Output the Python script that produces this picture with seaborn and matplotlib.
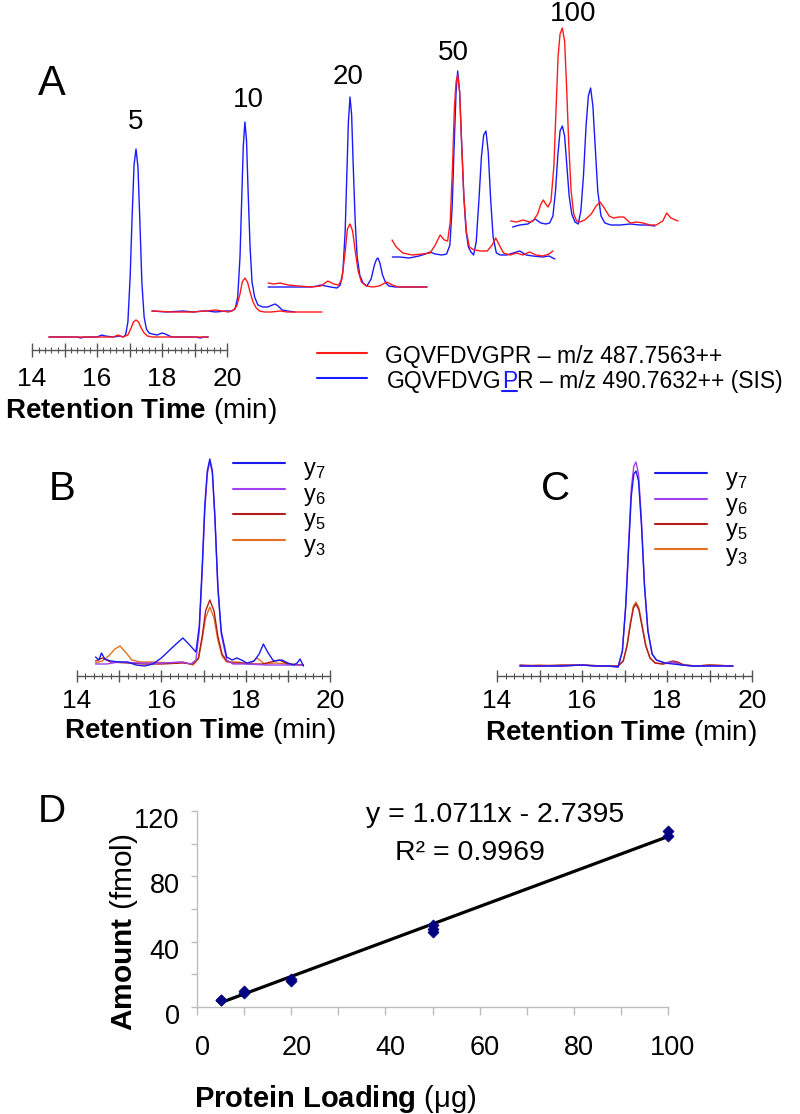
import numpy as np
import matplotlib
matplotlib.use("Agg")
import matplotlib.pyplot as plt
from matplotlib.lines import Line2D
from matplotlib.transforms import ScaledTranslation
import seaborn as sns

sns.set_style("white")
plt.rcParams["font.family"] = ["Liberation Sans", "DejaVu Sans"]
plt.rcParams["mathtext.fontset"] = "custom"
plt.rcParams["mathtext.rm"] = "Liberation Sans"
plt.rcParams["mathtext.bf"] = "Liberation Sans:bold"
plt.rcParams["mathtext.it"] = "Liberation Sans:italic"
plt.rcParams["mathtext.default"] = "regular"
plt.rcParams["text.color"] = "black"
plt.rcParams["xtick.color"] = "black"
plt.rcParams["ytick.color"] = "black"
plt.rcParams["axes.labelcolor"] = "black"

# ---------------- DATA ----------------
# Panel A: XIC traces (time in min, intensity in arbitrary units) for each protein loading
loading_labels = ["5", "10", "20", "50", "100"]

a5_t_sis = [14.52, 15.0, 15.4, 15.5, 15.6, 16.0, 16.15, 16.25, 16.5, 16.7, 16.8, 16.88, 16.95, 17.02, 17.08, 17.14,
            17.2, 17.26, 17.32, 17.38, 17.45, 17.52, 17.6, 17.7, 17.85, 18.0, 18.1, 18.3, 18.6, 19.0, 19.2, 19.25, 19.42]
a5_sis = [0, 0, 0, -1, 0, 0, 2, 1, 0, 1, 0, 2, 15, 60, 120, 172,
          188, 170, 115, 55, 20, 8, 4, 3, 2, 4, 3, 0, 0, 0, -1, 0, 0]
a5_t_nat = [14.52, 15.5, 16.0, 16.5, 16.65, 16.8, 16.95, 17.05, 17.12, 17.2, 17.28, 17.36, 17.45, 17.55, 17.7, 18.0,
            19.0, 19.42]
a5_nat = [0, 0, 0, 0, 2, 0, 2, 9, 15, 17, 15, 9, 4, 1, 0, 0, 0, 0]

a10_t_sis = [14.34, 14.8, 15.3, 15.6, 15.9, 16.05, 16.3, 16.6, 16.8, 16.9, 16.98, 17.05, 17.1, 17.15, 17.2, 17.25,
             17.3, 17.36, 17.42, 17.5, 17.6, 17.75, 17.9, 18.05, 18.13, 18.22, 18.35, 18.5, 18.74]
a10_sis = [1, 0, 1, 0, 1, 1, 0, 1, 1, 3, 15, 55, 110, 165, 190, 172,
           120, 65, 30, 15, 7, 5, 5, 7, 8, 6, 2, 1, 0]
a10_t_nat = [14.34, 15.0, 15.6, 16.0, 16.3, 16.5, 16.7, 16.85, 16.95, 17.05, 17.12, 17.2, 17.28, 17.36, 17.45, 17.55,
             17.65, 17.8, 18.0, 18.3, 18.5, 19.0, 19.57]
a10_nat = [1, 0, 0, 1, 2, 1, 0, 2, 6, 18, 30, 34, 30, 20, 10, 4, 1, 0, 0, 1, 0, 0, 0]

a20_t_sis = [14.68, 15.0, 15.5, 16.0, 16.2, 16.3, 16.45, 16.6, 16.8, 16.9, 16.98, 17.05, 17.1, 17.15, 17.2, 17.25,
             17.3, 17.36, 17.42, 17.5, 17.6, 17.72, 17.85, 17.95, 18.02, 18.06, 18.12, 18.2, 18.3, 18.4, 18.6, 19.0,
             19.57]
a20_sis = [0, 0, 0, 0, 1, 2, 1, 0, -1, 2, 15, 55, 110, 165, 190, 172,
           120, 65, 30, 12, 4, 1, 8, 22, 28, 29, 24, 12, 4, 1, 0, 0, 0]
a20_t_nat = [14.68, 14.85, 15.05, 15.3, 15.6, 16.0, 16.3, 16.52, 16.7, 16.85, 16.95, 17.05, 17.12, 17.2, 17.28,
             17.36, 17.45, 17.55, 17.7, 17.9, 18.1, 18.33, 18.5, 18.7, 19.0, 19.57]
a20_nat = [4, 3, 4, 2, 1, 0, 1, 6, 3, 2, 8, 35, 58, 63, 56, 36, 16, 5, 1, 0, 1, 5, 2, 0, 0, 0]

a50_t_sis = [15.18, 15.4, 15.7, 16.0, 16.2, 16.34, 16.5, 16.7, 16.85, 16.95, 17.02, 17.08, 17.14, 17.19, 17.25, 17.31,
             17.38, 17.45, 17.52, 17.6, 17.68, 17.76, 17.84, 17.92, 17.99, 18.06, 18.13, 18.2, 18.28, 18.38, 18.5,
             18.7, 18.9, 19.1, 19.3, 19.5, 19.8, 20.0, 20.18]
a50_sis = [0, 0, -1, 1, 3, 5, 3, 2, 3, 12, 50, 110, 165, 186, 165, 115,
           60, 25, 10, 5, 2, 15, 55, 100, 122, 126, 105, 60, 20, 4, 2,
           2, 4, 6, 2, 1, 0, 1, -2]
a50_t_nat = [15.17, 15.3, 15.5, 15.8, 16.1, 16.34, 16.5, 16.65, 16.78, 16.88, 16.96, 17.03, 17.09, 17.14, 17.19,
             17.25, 17.31, 17.38, 17.46, 17.55, 17.7, 17.9, 18.1, 18.25, 18.36, 18.47, 18.6, 18.8, 19.0, 19.2, 19.4,
             19.6, 19.8, 20.0, 20.12]
a50_nat = [17, 10, 4, 2, 3, 4, 12, 22, 17, 16, 35, 90, 150, 175, 182,
           165, 115, 60, 25, 10, 7, 6, 6, 12, 19, 12, 4, 2, 4, 2, 5,
           2, 1, 3, 6]

a100_t_sis = [15.68, 15.9, 16.15, 16.37, 16.55, 16.7, 16.82, 16.92, 17.0, 17.07, 17.14, 17.21, 17.28, 17.35, 17.42,
              17.5, 17.6, 17.7, 17.78, 17.86, 17.94, 18.01, 18.08, 18.15, 18.22, 18.3, 18.4, 18.52, 18.7, 19.0, 19.3,
              19.6, 19.8, 20.06]
a100_sis = [-1, 1, 2, 7, 3, 2, 3, 10, 35, 70, 95, 100, 90, 60, 30,
            12, 4, 2, 15, 50, 100, 130, 138, 120, 80, 35, 10, 3, 1, 1, 2,
            1, 1, 0]
a100_t_nat = [15.62, 15.8, 16.0, 16.2, 16.31, 16.45, 16.55, 16.625, 16.7, 16.77, 16.86, 16.95, 17.02, 17.08, 17.14,
              17.21, 17.28, 17.34, 17.41, 17.48, 17.56, 17.65, 17.75, 17.9, 18.1, 18.25, 18.37, 18.5, 18.65, 18.78,
              18.95, 19.1, 19.3, 19.5, 19.7, 19.9, 20.1, 20.3, 20.42, 20.55, 20.77]
a100_nat = [5, 4, 6, 4, 5, 12, 22, 26, 22, 19, 25, 60, 120, 170, 192,
            198, 185, 140, 80, 35, 12, 5, 4, 6, 12, 20, 24, 18, 10, 8,
            9, 9, 3, 4, 3, 1, 1, 5, 13, 8, 5]

a_legend_nat = "GQVFDVGPR \u2013 m/z 487.7563++"
a_legend_sis = ["GQVFDVG", "P", "R \u2013 m/z 490.7632++ (SIS)"]

# Panel B: transitions (5 ug)
fragment_labels = ["y$_{7}$", "y$_{6}$", "y$_{5}$", "y$_{3}$"]
b_t_y7 = [14.44, 14.52, 14.58, 14.66, 14.8, 15.0, 15.2, 15.4, 15.6, 15.8, 16.0, 16.2, 16.35, 16.51, 16.65, 16.82,
          16.9, 16.97, 17.03, 17.09, 17.15, 17.21, 17.27, 17.34, 17.42, 17.55, 17.68, 17.79, 17.9, 18.03, 18.2,
          18.32, 18.42, 18.52, 18.66, 18.86, 19.0, 19.14, 19.22, 19.29, 19.37]
b_y7 = [9, 6, 13, 7, 5, 4, 4, 1, 0, 2, 8, 16, 22, 28, 22, 14,
        40, 100, 160, 195, 207, 195, 150, 80, 35, 9, 6, 8, 6, 3, 5,
        12, 22, 14, 5, 6, 3, 1, 3, 7, 0]
b_t_y6 = [14.44, 14.7, 15.0, 15.5, 16.0, 16.5, 16.7, 16.82, 16.9, 16.97, 17.03, 17.09, 17.15, 17.21, 17.27, 17.34,
          17.42, 17.55, 17.7, 18.0, 18.5, 19.0, 19.37]
b_y6 = [2, 2, 4, 3, 3, 4, 2, 6, 35, 95, 155, 192, 205, 193, 148, 78, 32, 6, 2, 2, 1, 1, 1]
b_t_y5 = [14.44, 14.6, 14.8, 15.2, 15.6, 16.0, 16.5, 16.75, 16.88, 16.97, 17.05, 17.15, 17.25, 17.34, 17.44, 17.55,
          17.7, 17.9, 18.1, 18.4, 18.6, 18.8, 19.0, 19.37]
b_y5 = [5, 8, 4, 3, 2, 2, 3, 2, 8, 30, 55, 66, 55, 30, 12, 5, 3, 3, 2, 2, 4, 6, 2, 1]
b_t_y3 = [14.44, 14.6, 14.75, 14.9, 15.02, 15.15, 15.3, 15.5, 15.8, 16.2, 16.5, 16.75, 16.88, 16.97, 17.05, 17.15,
          17.25, 17.34, 17.44, 17.55, 17.8, 18.1, 18.27, 18.45, 18.7, 19.0, 19.37]
b_y3 = [3, 5, 10, 17, 20, 14, 6, 4, 4, 3, 4, 1, 7, 27, 48, 59, 48, 26, 10, 4, 4, 2, 8, 2, 3, 2, 1]

# Panel C: transitions (50 ug)
c_t = [14.54, 15.0, 15.5, 16.0, 16.3, 16.6, 16.85, 16.95, 17.03, 17.1, 17.16, 17.22, 17.27, 17.33, 17.4, 17.47,
       17.55, 17.65, 17.75, 17.95, 18.14, 18.35, 18.6, 19.0, 19.3, 19.55]
c_y7 = [0, 0, 0, 1, 0, 0, -1, 15, 60, 120, 170, 192, 195, 185, 140, 80, 35, 12, 6, 3, 2, 1, 0, 0, 0, 0]
c_y6 = [0, 0, 0, 1, 0, 0, -1, 15, 62, 125, 178, 200, 204, 192, 145, 82, 36, 12, 6, 3, 4, 1, 0, 0, 0, 0]
c_t_small = [14.54, 15.0, 15.5, 16.0, 16.5, 16.85, 16.97, 17.06, 17.14, 17.21, 17.27, 17.34, 17.42, 17.5, 17.6,
             17.72, 17.9, 18.05, 18.14, 18.25, 18.4, 18.7, 19.0, 19.55]
c_y5 = [1, 0, 1, 1, 0, 0, 5, 20, 42, 58, 62, 56, 38, 20, 8, 3, 2, 4, 5, 4, 1, 0, 1, 0]
c_y3 = [0, 1, 0, 1, 0, 0, 5, 21, 44, 60, 64, 58, 40, 21, 8, 3, 2, 3, 3, 3, 1, 0, 1, 0]

# Panel D: calibration
d_loading = [5, 5, 10, 10, 20, 20, 50, 50, 50, 100, 100]
d_amount = [4.5, 4.0, 8.5, 9.5, 16.0, 17.0, 46.0, 47.5, 50.0, 105.0, 107.5]
fit_slope = 1.0711
fit_intercept = -2.7395
fit_r2 = 0.9969

# ---------------- STYLE / LAYOUT ----------------
W, H = 800, 1114
RED, BLUE = "#ff1a1a", "#1a1aff"
FRAG_COLORS = ["#1a1aee", "#a040f0", "#b01c1c", "#e2701e"]
AXIS_GRAY = "#555555"

fig = plt.figure(figsize=(W / 100, H / 100), dpi=100)


def px_axes(x0, y0, x1, y1):
    return fig.add_axes([x0 / W, 1 - y1 / H, (x1 - x0) / W, (y1 - y0) / H])


def fx(x):
    return x / W


def fy(y):
    return 1 - y / H


def style_time_axis(ax, spine_y, major_len, minor_len, labelsize, pad):
    for s in ["top", "right", "left"]:
        ax.spines[s].set_visible(False)
    ax.spines["bottom"].set_position(("data", spine_y))
    ax.spines["bottom"].set_bounds(14, 20)
    ax.spines["bottom"].set_color(AXIS_GRAY)
    ax.spines["bottom"].set_linewidth(1.0)
    ax.set_xticks(np.arange(14, 20.01, 1))
    ax.set_xticklabels(["14", "", "16", "", "18", "", "20"])
    ax.set_xticks(np.arange(14, 20.01, 0.2), minor=True)
    ax.tick_params(axis="x", which="major", bottom=True, direction="inout", length=major_len, width=1,
                   color=AXIS_GRAY, labelcolor="black", labelsize=labelsize, pad=pad)
    ax.tick_params(axis="x", which="minor", bottom=True, direction="inout", length=minor_len, width=0.8,
                   color=AXIS_GRAY)
    ax.set_yticks([])
    ax.set_xlabel("")
    ax.set_ylabel("")
    ax.patch.set_alpha(0)


# ---------------- PANEL A ----------------
axA = px_axes(32, 0, 800, 420)
axA.set_xlim(14, 14 + 768 / 32.5)
axA.set_ylim(0, 420)
A_XOFF = [0, 3.35, 6.585, 9.908, 13.108]
A_BASE = [337, 312, 287, 257, 226]
A_TRACES = [(a5_t_sis, a5_sis, a5_t_nat, a5_nat),
            (a10_t_sis, a10_sis, a10_t_nat, a10_nat),
            (a20_t_sis, a20_sis, a20_t_nat, a20_nat),
            (a50_t_sis, a50_sis, a50_t_nat, a50_nat),
            (a100_t_sis, a100_sis, a100_t_nat, a100_nat)]
for i, (ts, ys, tn, yn) in enumerate(A_TRACES):
    base = 420 - A_BASE[i]
    sns.lineplot(x=np.array(ts) + A_XOFF[i], y=np.array(ys) + base, ax=axA, color=BLUE, lw=1.0,
                 estimator=None, sort=False)
    sns.lineplot(x=np.array(tn) + A_XOFF[i], y=np.array(yn) + base, ax=axA, color=RED, lw=1.0,
                 estimator=None, sort=False)
style_time_axis(axA, 70, 10, 5, 19, 7)

peak_lab_pos = [(136, 129), (248, 107), (348, 84), (453, 60), (573, 21)]
for lab, (px, py) in zip(loading_labels, peak_lab_pos):
    fig.text(fx(px), fy(py), lab, ha="center", va="baseline", fontsize=20)

fig.text(fx(52), fy(95), "A", ha="center", va="baseline", fontsize=30)
fig.text(fx(5), fy(418), r"$\mathbf{Retention\ Time}$ (min)", ha="left", va="baseline", fontsize=20)

# legend A
fig.add_artist(Line2D([fx(317), fx(367)], [fy(353), fy(353)], color=RED, lw=1.5))
fig.add_artist(Line2D([fx(317), fx(367)], [fy(378), fy(378)], color=BLUE, lw=1.5))
fig.text(fx(385), fy(363), a_legend_nat, ha="left", va="baseline", fontsize=16.5)
t1 = fig.text(fx(387), fy(388), a_legend_sis[0], ha="left", va="baseline", fontsize=16.5)
t2 = axA.annotate(a_legend_sis[1], xy=(1, 0), xycoords=t1, ha="left", va="bottom", fontsize=16.5, color=BLUE,
                  annotation_clip=False)
t3 = axA.annotate(a_legend_sis[2], xy=(1, 0), xycoords=t2, ha="left", va="bottom", fontsize=16.5,
                  annotation_clip=False)

# ---------------- PANELS B, C ----------------
def frag_panel(x0, x1, series, letter, letter_x, leg_x0, leg_x1, leg_tx, leg_ys, label_cx, label_base):
    ax = px_axes(x0, 450, x1, 690)
    ax.set_xlim(14, 20)
    ax.set_ylim(-(690 - 666), 666 - 450)
    for (t, y), c in list(zip(series, FRAG_COLORS))[::-1]:
        sns.lineplot(x=t, y=y, ax=ax, color=c, lw=1.0, estimator=None, sort=False)
    style_time_axis(ax, -10, 8, 4, 19, 5)
    for lab, c, ly in zip(fragment_labels, FRAG_COLORS, leg_ys):
        fig.add_artist(Line2D([fx(leg_x0), fx(leg_x1)], [fy(ly), fy(ly)], color=c, lw=1.5))
        fig.text(fx(leg_tx), fy(ly + 12), lab, ha="left", va="baseline", fontsize=17)
    fig.text(fx(letter_x), fy(500), letter, ha="center", va="baseline", fontsize=29)
    fig.text(fx(label_cx), fy(label_base), r"$\mathbf{Retention\ Time}$ (min)", ha="center", va="baseline",
             fontsize=20)
    return ax


axB = frag_panel(77, 330, [(b_t_y7, b_y7), (b_t_y6, b_y6), (b_t_y5, b_y5), (b_t_y3, b_y3)], "B", 62,
                 233, 285, 303, [463, 489, 514, 540], 200, 738)
axC = frag_panel(497, 752, [(c_t, c_y7), (c_t, c_y6), (c_t_small, c_y5), (c_t_small, c_y3)], "C", 556,
                 655, 707, 725, [473, 499, 524, 549], 621, 740)

# ---------------- PANEL D ----------------
axD = px_axes(197, 811, 668, 1007)
sns.scatterplot(x=d_loading, y=d_amount, marker="D", s=32, color="#000080", edgecolor="#000080", linewidth=0.5,
                ax=axD, clip_on=False, zorder=3)
xs = np.array([min(d_loading), max(d_loading)], dtype=float)
sns.lineplot(x=xs, y=fit_slope * xs + fit_intercept, ax=axD, color="black", lw=2.3)
axD.set_xlim(0, 100)
axD.set_ylim(0, 120)
for s in ["top", "right"]:
    axD.spines[s].set_visible(False)
for s in ["left", "bottom"]:
    axD.spines[s].set_color("#bdbdbd")
    axD.spines[s].set_linewidth(1.0)
axD.set_xticks(np.arange(0, 101, 10))
axD.set_xticklabels([str(v) if v % 20 == 0 else "" for v in range(0, 101, 10)])
axD.set_yticks(np.arange(0, 121, 20))
axD.set_yticklabels([str(v) if v % 40 == 0 else "" for v in range(0, 121, 20)])
axD.tick_params(axis="x", bottom=True, direction="out", length=6, width=1, color="#bdbdbd",
                labelcolor="black", labelsize=19.5, pad=14)
axD.tick_params(axis="y", left=True, direction="out", length=4.5, width=1, color="#bdbdbd",
                labelcolor="black", labelsize=19.5, pad=8)
axD.set_xlabel("")
axD.set_ylabel("")
axD.patch.set_alpha(0)
xoff = ScaledTranslation(5 / 100, 0, fig.dpi_scale_trans)
yoff = ScaledTranslation(0, -7 / 100, fig.dpi_scale_trans)
for lab in axD.get_xticklabels():
    lab.set_transform(lab.get_transform() + xoff)
for lab in axD.get_yticklabels():
    lab.set_transform(lab.get_transform() + yoff)

fig.text(fx(52), fy(822), "D", ha="center", va="baseline", fontsize=28)
fig.text(fx(495), fy(822), f"y = {fit_slope}x - {abs(fit_intercept)}", ha="center", va="baseline", fontsize=20.5)
fig.text(fx(470), fy(860), f"R\u00b2 = {fit_r2}", ha="center", va="baseline", fontsize=20.5)
fig.text(fx(124), fy(932), r"$\mathbf{Amount}$ (fmol)", rotation=90, ha="center", va="center", fontsize=21.5)
fig.text(fx(335), fy(1107), "$\\mathbf{Protein\\ Loading}$ (\u03bcg)", ha="center", va="baseline", fontsize=21)

# underline of the labelled residue
fig.canvas.draw()
bb = t2.get_window_extent()
fig.add_artist(Line2D([bb.x0 / W, bb.x1 / W], [fy(390.5), fy(390.5)], color=BLUE, lw=1.5))

fig.savefig("out.png", dpi=100)
